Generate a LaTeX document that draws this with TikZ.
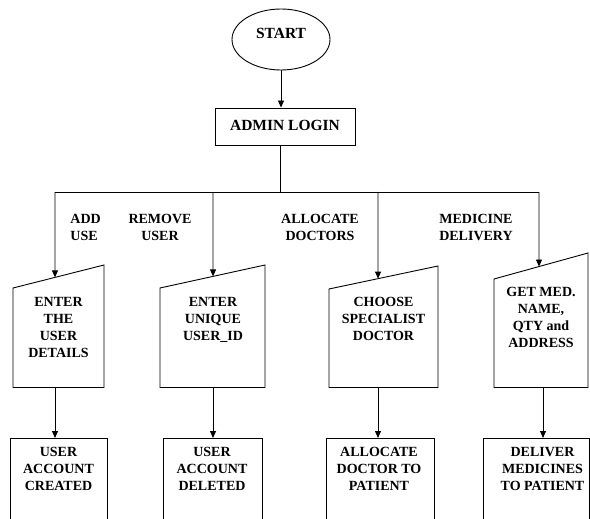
\documentclass[tikz,border=0pt]{standalone}
\usepackage{fontspec}
\setmainfont{Liberation Serif}
\usetikzlibrary{arrows.meta,calc,shapes.geometric}

\begin{document}
\begin{tikzpicture}[x=1pt,y=-1pt,line width=0.9pt,
  txt/.style={font=\bfseries\fontsize{14}{17}\selectfont,align=center,inner sep=0pt,anchor=north},
  bigtxt/.style={font=\bfseries\fontsize{15.5}{18}\selectfont,inner sep=0pt},
  arr/.style={-{Triangle[length=7pt,width=6pt]}},
  outbox/.style={draw,minimum height=100pt,anchor=north,inner sep=0pt}]
\useasboundingbox (0,0) rectangle (590,519);
\clip (0,0) rectangle (590,519);

% start and login
\node[ellipse,draw,minimum width=98pt,minimum height=61pt,inner sep=0pt] (start) at (281,39.5) {};
\node[bigtxt] (starttxt) at (281,33) {START};
\node[draw,minimum width=140pt,minimum height=37pt,inner sep=0pt] (login) at (285,126.5) {};
\node[bigtxt] (logintxt) at (285,125) {ADMIN LOGIN};
\draw[arr] (start.south) -- (start.south |- login.north);

% branching bus
\coordinate (junc) at (280,192);
\coordinate (busA) at (55,192);
\coordinate (busB) at (213,192);
\coordinate (busC) at (378,192);
\coordinate (busD) at (539,192);
\draw (junc |- login.south) -- (junc);
\draw (busA) -- (busD);

% branch labels
\node[txt,anchor=north west,align=left] (lblA) at (70,214) {ADD\\USE};
\node[txt] (lblB) at (160,214) {REMOVE\\USER};
\node[txt] (lblC) at (320,214) {ALLOCATE\\DOCTORS};
\node[txt] (lblD) at (476,214) {MEDICINE\\DELIVERY};

% manual input shapes
\foreach \n/\l/\r/\ytl/\ytr in {1/13/104/288/265, 2/160/265/288/265, 3/329/438/289/266, 4/494/588/279/253}{
  \coordinate (m\n tl) at (\l,\ytl);
  \coordinate (m\n tr) at (\r,\ytr);
  \coordinate (m\n bl) at (\l,387.5);
  \coordinate (m\n br) at (\r,387.5);
  \draw (m\n tl) -- (m\n tr) -- (m\n br) -- (m\n bl) -- cycle;
}
\node[txt] (in1) at (58.5,296.7) {ENTER\\THE\\USER\\DETAILS};
\node[txt] (in2) at (213,296.7) {ENTER\\UNIQUE\\USER\_ID};
\node[txt] (in3) at (383.5,296.7) {CHOOSE\\SPECIALIST\\DOCTOR};
\node[txt] (in4) at (541,286.7) {GET MED.\\NAME,\\QTY and\\ADDRESS};

% arrows into the input shapes
\coordinate (e1) at ($(m1tl)!0.4615!(m1tr)$);
\coordinate (e2) at ($(m2tl)!0.505!(m2tr)$);
\coordinate (e3) at ($(m3tl)!0.45!(m3tr)$);
\coordinate (e4) at ($(m4tl)!0.479!(m4tr)$);
\draw[arr] (busA) -- (e1);
\draw[arr] (busB) -- (e2);
\draw[arr] (busC) -- (e3);
\draw[arr] (busD) -- (e4);

% result boxes
\node[outbox,minimum width=97pt] (o1) at (58.5,438) {};
\node[outbox,minimum width=99pt] (o2) at (212.5,438) {};
\node[outbox,minimum width=108pt] (o3) at (380,438) {};
\node[outbox,minimum width=106pt] (o4) at (536,438) {};
\node[txt] (o1t) at (58.5,446.7) {USER\\ACCOUNT\\CREATED};
\node[txt] (o2t) at (212,446.7) {USER\\ACCOUNT\\DELETED};
\node[txt] (o3t) at (379,446.7) {ALLOCATE\\DOCTOR TO\\PATIENT};
\node[txt] (o4t) at (542.5,446.7) {DELIVER\\MEDICINES\\TO PATIENT};

\coordinate (b1) at (55,387.5);
\coordinate (b2) at (213,387.5);
\coordinate (b3) at (378,387.5);
\coordinate (b4) at (543,387.5);
\draw[arr] (b1) -- (b1 |- o1.north);
\draw[arr] (b2) -- (b2 |- o2.north);
\draw[arr] (b3) -- (b3 |- o3.north);
\draw[arr] (b4) -- (b4 |- o4.north);
\end{tikzpicture}
\end{document}
